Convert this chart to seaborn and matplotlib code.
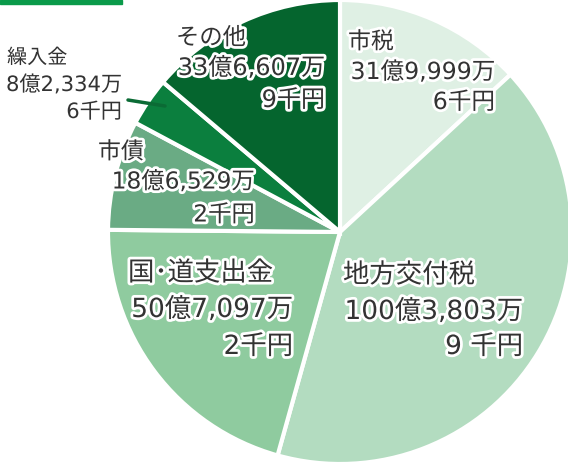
import matplotlib
matplotlib.use("Agg")
import matplotlib.pyplot as plt
import matplotlib.patheffects as pe
import seaborn as sns

# revenue breakdown, values in 千円
categories = ["市税", "地方交付税", "国･道支出金", "市債", "繰入金", "その他"]
values = [3199996, 10038039, 5070972, 1865292, 823346, 3366079]
amount_lines = ["31億9,999万", "100億3,803万", "50億7,097万", "18億6,529万", "8億2,334万", "33億6,607万"]
sen_lines = ["6千円", "9 千円", "2千円", "2千円", "6千円", "9千円"]
colors = ["#dff0e4", "#b3dcc0", "#8fcb9f", "#6aab84", "#0b7f3e", "#05652e"]

sns.set_style("white")
plt.rcParams["font.family"] = ["Noto Sans CJK JP", "DejaVu Sans"]
num_family = ["DejaVu Sans", "Noto Sans CJK JP"]

W, H = 568, 463
CX, CY, R = 340, 232, 232

fig = plt.figure(figsize=(W / 100, H / 100), dpi=100)
ax = fig.add_axes([0, 0, 1, 1])
ax.pie(values, colors=colors, startangle=90, counterclock=False, radius=1,
       wedgeprops=dict(edgecolor="white", linewidth=3))
ax.set_xlim(-CX / R, (W - CX) / R)
ax.set_ylim(-(H - CY) / R, CY / R)
ax.set_aspect("equal")
ax.axis("off")


def px(x, y):
    return (x - CX) / R, (CY - y) / R


stroke = [pe.withStroke(linewidth=4, foreground="white")]

# label layout: (left x of name, y of name, right x of amount lines, y line2, y line3, name size, amount size)
layout = {
    "市税": (348, 42, 495, 72, 102, 16.5, 17),
    "地方交付税": (343, 275, 523, 312, 347, 19, 19),
    "国･道支出金": (128, 273, 293, 310, 347, 19, 19),
    "市債": (98, 152, 255, 182, 215, 16.5, 16.8),
    "繰入金": (7, 58, 122, 85, 112, 14.5, 15.2),
    "その他": (176, 38, 325, 68, 100, 16.8, 17.3),
}

for cat, amt, sen in zip(categories, amount_lines, sen_lines):
    x1, y1, x2, y2, y3, fs1, fs2 = layout[cat]
    kw = dict(color="#333333", va="center", path_effects=stroke)
    ax.text(*px(x1, y1), cat, ha="left", fontsize=fs1, **kw)
    ax.text(*px(x2, y2), amt, ha="right", fontsize=fs2, family=num_family, **kw)
    ax.text(*px(x2, y3), sen, ha="right", fontsize=fs2, family=num_family, **kw)

# leader line for 繰入金
(lx0, ly0), (lx1, ly1) = px(128, 100), px(165, 106)
ax.plot([lx0, lx1], [ly0, ly1], color="#0b6b35", linewidth=2.5,
        solid_capstyle="round")

# green bar at top-left
fig.add_artist(plt.Rectangle((0, 1 - 4 / H), 122 / W, 4 / H,
                             transform=fig.transFigure, color="#0a9a4a"))

fig.savefig("out.png", dpi=100)
